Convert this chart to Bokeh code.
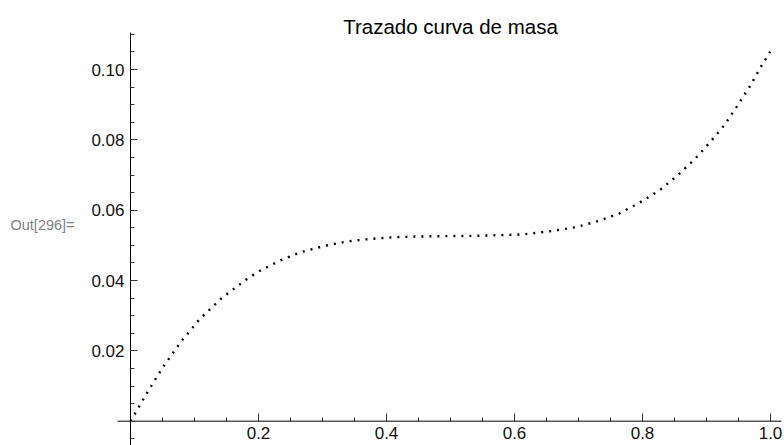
import numpy as np
from bokeh.plotting import figure
from bokeh.models import LinearAxis, FixedTicker, PrintfTickFormatter, Range1d, Label, ColumnDataSource
from bokeh.embed import file_html
from bokeh.resources import INLINE

# data
x_vals = [0.0, 0.025, 0.05, 0.078, 0.108, 0.143, 0.181, 0.2016, 0.234, 0.267, 0.302,
          0.3375, 0.373, 0.409, 0.445, 0.482, 0.54, 0.612, 0.66, 0.696, 0.731, 0.764,
          0.796, 0.827, 0.855, 0.881, 0.905, 0.928, 0.948, 0.968, 0.986, 1.0]
y_vals = [0.0, 0.0078, 0.0152, 0.0224, 0.029, 0.0351, 0.0403, 0.0427, 0.0457, 0.0481, 0.0498,
          0.0511, 0.0518, 0.0523, 0.0525, 0.0526, 0.0527, 0.0531, 0.0541, 0.0552, 0.0569, 0.0591,
          0.0622, 0.0657, 0.0699, 0.0744, 0.0792, 0.0842, 0.0896, 0.0953, 0.1011, 0.1052]

x_ticks = [0.2, 0.4, 0.6, 0.8, 1.0]
y_ticks = [0.02, 0.04, 0.06, 0.08, 0.10]
x_minor = [round(v, 3) for v in np.arange(0.05, 1.001, 0.05)]
y_minor = [round(v, 4) for v in np.arange(-0.005, 0.1101, 0.005)]

title_text = "Trazado curva de masa"
out_text = "Out[296]="

FONT = "Liberation Sans"

# visible extent of the axis lines
X_AXIS_START, X_AXIS_END = -0.0203, 1.0172
Y_AXIS_START, Y_AXIS_END = -0.0069, 0.1105

p = figure(width=784, height=445, output_backend="svg", toolbar_location=None,
           x_axis_type=None, y_axis_type=None,
           x_range=Range1d(-0.203125, 1.021875), y_range=Range1d(-0.00691, 0.11962),
           min_border_left=0, min_border_right=0, min_border_top=0, min_border_bottom=0)
p.grid.visible = False
p.outline_line_color = None
p.background_fill_color = "white"
p.border_fill_color = "white"

xaxis = LinearAxis(fixed_location=0,
                   ticker=FixedTicker(ticks=x_ticks, minor_ticks=x_minor),
                   formatter=PrintfTickFormatter(format="%.1f"))
yaxis = LinearAxis(fixed_location=0,
                   ticker=FixedTicker(ticks=y_ticks, minor_ticks=y_minor),
                   formatter=PrintfTickFormatter(format="%.2f"))
for ax in (xaxis, yaxis):
    ax.axis_line_color = None
    ax.major_tick_line_color = "#333333"
    ax.minor_tick_line_color = "#333333"
    ax.major_tick_out = 0
    ax.minor_tick_out = 0
    ax.major_label_text_font = FONT
    ax.major_label_text_font_size = "17px"
    ax.major_label_text_color = "#111111"
xaxis.major_tick_in = 8
xaxis.minor_tick_in = 4
xaxis.major_label_standoff = 6
yaxis.major_tick_in = 7
yaxis.minor_tick_in = 4
yaxis.major_label_standoff = 6
p.add_layout(xaxis, "below")
p.add_layout(yaxis, "left")

# axis lines
p.segment(x0=[X_AXIS_START, 0], y0=[0, Y_AXIS_START], x1=[X_AXIS_END, 0], y1=[0, Y_AXIS_END],
          line_color="black", line_width=1)

src = ColumnDataSource(dict(x=x_vals, y=y_vals))
p.line("x", "y", source=src, line_color="black", line_width=2.4,
       line_dash="2 6", line_cap="butt")

p.add_layout(Label(x=0.5, y=0.11223, text=title_text, text_align="center",
                   text_baseline="alphabetic", text_font=FONT,
                   text_font_size="20.5px", text_color="black"))
p.add_layout(Label(x=-0.1875, y=0.05565, text=out_text, text_align="left",
                   text_baseline="middle", text_font=FONT,
                   text_font_size="14.5px", text_color="#808080"))

open("out.html", "w").write(file_html(p, INLINE))
